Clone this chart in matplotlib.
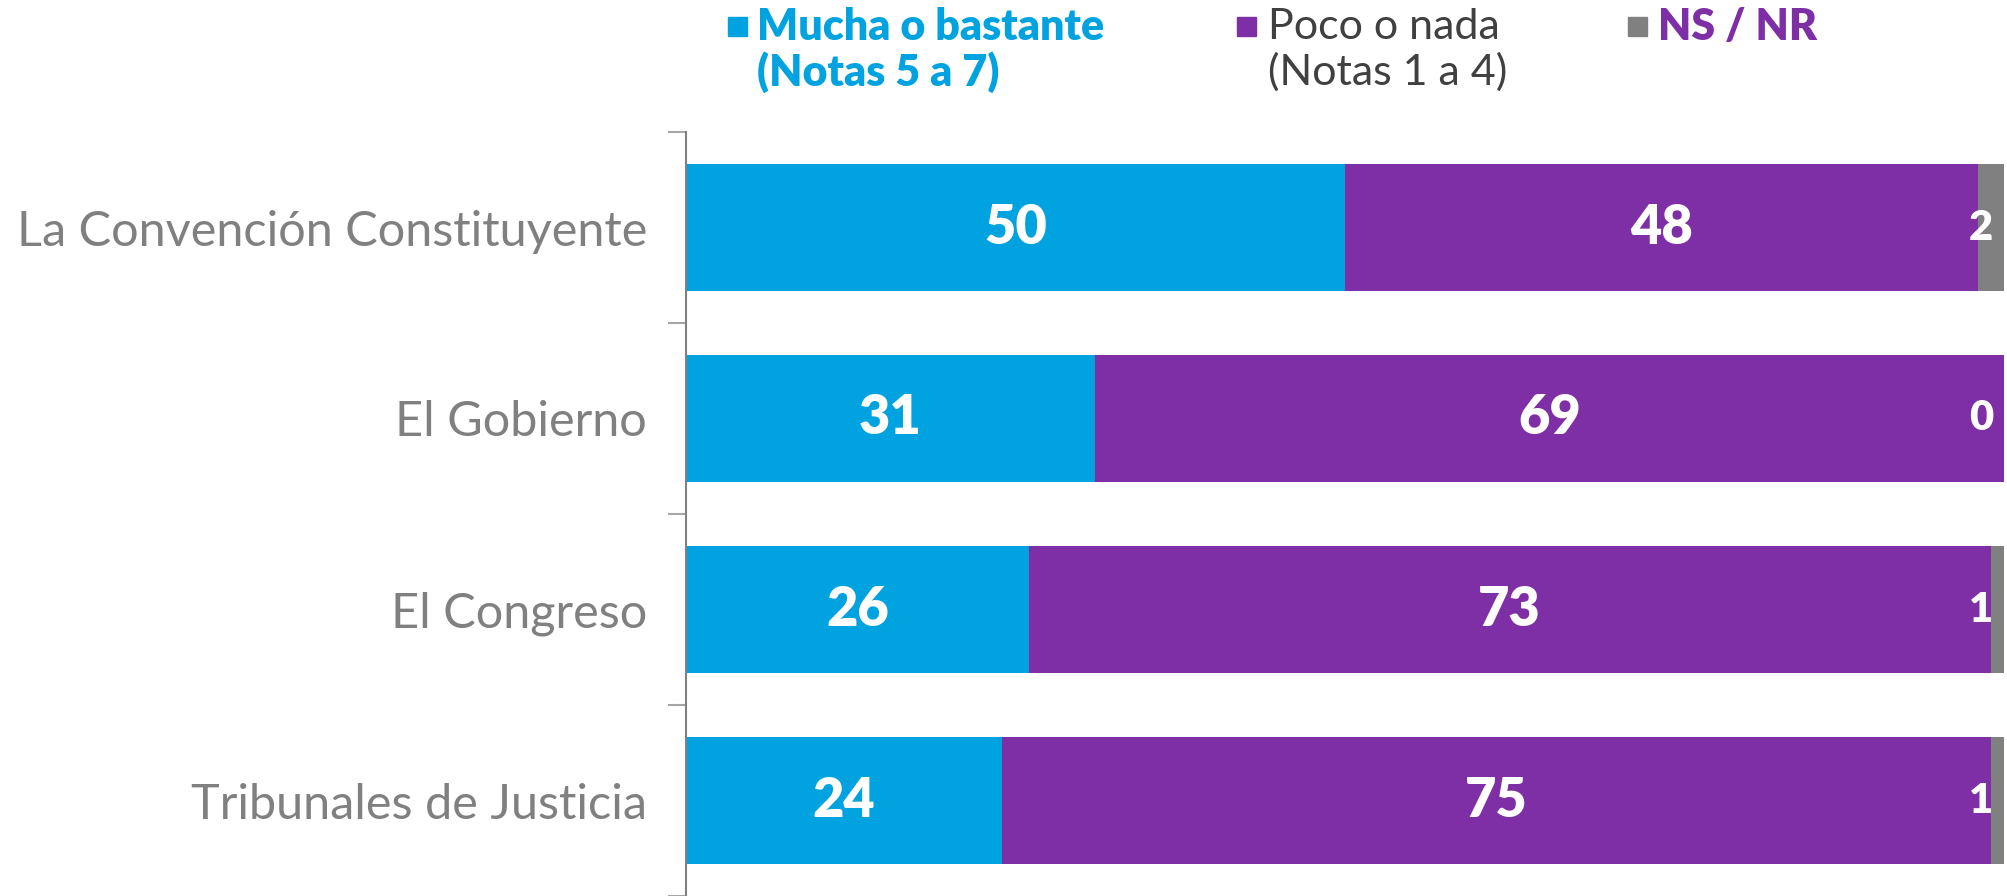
import numpy as np
import matplotlib.pyplot as plt
from matplotlib.patches import Rectangle

plt.rcParams['font.family'] = ['Lato', 'DejaVu Sans']

categories = ['La Convención Constituyente', 'El Gobierno', 'El Congreso', 'Tribunales de Justicia']
mucha = [50, 31, 26, 24]
poco = [48, 69, 73, 75]
nsnr = [2, 0, 1, 1]

BLUE = '#00A3E0'
PURPLE = '#7F2FA5'
GRAY = '#808080'

fig = plt.figure(figsize=(20.08, 8.96), dpi=100)
ax = fig.add_axes([686 / 2008, 0.0, 1318 / 2008, 764 / 896])

y = np.arange(len(categories))
h = 0.664
mucha = np.array(mucha)
poco = np.array(poco)
nsnr = np.array(nsnr)

ax.barh(y, mucha, height=h, color=BLUE, edgecolor='none')
ax.barh(y, poco, left=mucha, height=h, color=PURPLE, edgecolor='none')
ax.barh(y, nsnr, left=mucha + poco, height=h, color=GRAY, edgecolor='none')

lab = dict(color='white', fontsize=39, fontweight='heavy', va='center')
for i in range(len(categories)):
    ax.text(mucha[i] / 2, y[i], str(mucha[i]), ha='center', **lab)
    ax.text(mucha[i] + poco[i] / 2, y[i], str(poco[i]), ha='center', **lab)
    ax.text(99.2, y[i], str(nsnr[i]), ha='right', **dict(lab, fontsize=30))

ax.set_xlim(0, 100)
ax.set_ylim(len(categories) - 0.5, -0.5)
ax.set_xticks([])
ax.set_yticks(np.arange(len(categories) + 1) - 0.5)
ax.set_yticklabels([])
ax.set_yticks(y, minor=True)
ax.set_yticklabels(categories, minor=True, fontsize=35, fontweight='normal', color=GRAY)
ax.tick_params(axis='y', which='major', length=13, width=1.5, color='#a6a6a6')
ax.tick_params(axis='y', which='minor', length=0, pad=28)
for s in ['top', 'right', 'bottom']:
    ax.spines[s].set_visible(False)
ax.spines['left'].set_color(GRAY)
ax.spines['left'].set_linewidth(1.5)

# legend
W, H = 2008, 896
def square(x, yy, c):
    fig.add_artist(Rectangle((x / W, 1 - (yy + 19) / H), 19 / W, 19 / H,
                             transform=fig.transFigure, color=c))

square(728, 17, BLUE)
fig.text(757 / W, 1 - 27 / H, 'Mucha o bastante', color=BLUE, fontsize=31,
         fontweight='heavy', va='center')
fig.text(757 / W, 1 - 72 / H, '(Notas 5 a 7)', color=BLUE, fontsize=31,
         fontweight='heavy', va='center')
square(1237, 17, PURPLE)
fig.text(1268 / W, 1 - 27 / H, 'Poco o nada', color='#404040', fontsize=31,
         fontweight='normal', va='center')
fig.text(1268 / W, 1 - 72 / H, '(Notas 1 a 4)', color='#404040', fontsize=31,
         fontweight='normal', va='center')
square(1628, 17, GRAY)
fig.text(1658 / W, 1 - 27 / H, 'NS / NR', color=PURPLE, fontsize=31,
         fontweight='heavy', va='center')

fig.savefig('out.png', dpi=100)
